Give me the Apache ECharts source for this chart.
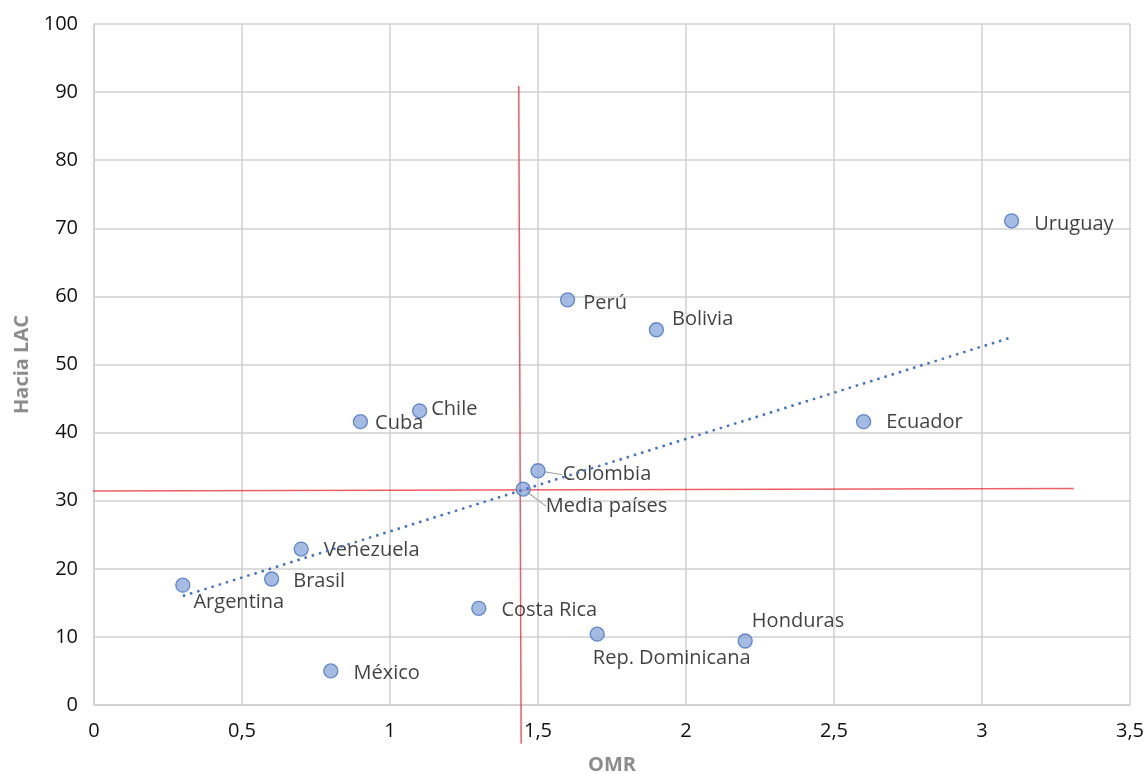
<!DOCTYPE html>
<html><head><meta charset="utf-8">
<script src="https://cdn.jsdelivr.net/npm/echarts@6/dist/echarts.min.js"></script>
<style>html,body{margin:0;padding:0;background:#fff;overflow:hidden}#c{width:1144px;height:774px}</style>
</head><body><div id="c"></div>
<script>
// ---- data ----
const countries = ['Argentina','Brasil','Venezuela','México','Cuba','Chile','Costa Rica','Colombia','Media países','Perú','Rep. Dominicana','Bolivia','Honduras','Ecuador','Uruguay'];
const omr      = [0.3, 0.6, 0.7, 0.8, 0.9, 1.1, 1.3, 1.5, 1.45, 1.6, 1.7, 1.9, 2.2, 2.6, 3.1];
const haciaLAC = [17.6, 18.5, 22.9, 5.0, 41.6, 43.2, 14.2, 34.4, 31.7, 59.5, 10.4, 55.1, 9.4, 41.6, 71.1];
const trendX = [0.3, 3.1];
const trendY = [16.0, 54.0];
const meanVX = [1.435, 1.443];
const meanVY = [90.9, -5.7];
const meanHX = [-0.17, 3.31];
const meanHY = [31.4, 31.8];
const leaderLabels = ['Colombia','Media países'];

// ---- label placement (px offsets from default right position) ----
const labelOffsets = {
  'Argentina':[-2,17],'Brasil':[9,2],'Venezuela':[10,1],'México':[10,2],'Cuba':[2,2],
  'Chile':[-1,-2],'Costa Rica':[10,2],'Colombia':[12,4],'Media países':[10,17],'Perú':[3,3],
  'Rep. Dominicana':[-17,24],'Bolivia':[3,-10],'Honduras':[-6,-20],'Ecuador':[10,1],'Uruguay':[10,3]
};

const FONT = 'Open Sans';
const chart = echarts.init(document.getElementById('c'), null, {renderer:'canvas'});
const pts = countries.map((n,i)=>({
  name:n, value:[omr[i], haciaLAC[i]],
  labelLine: {show: leaderLabels.includes(n)}
}));
const zip = (a,b)=>a.map((v,i)=>[v,b[i]]);

chart.setOption({
  animation:false,
  textStyle:{fontFamily:FONT},
  grid:{left:94, right:14, top:24, bottom:69, containLabel:false, outerBoundsMode:'none'},
  xAxis:{
    type:'value', min:0, max:3.5, interval:0.5,
    name:'OMR', nameLocation:'middle', nameGap:50,
    nameTextStyle:{color:'#8c8c8c', fontWeight:'bold', fontSize:20, fontFamily:FONT},
    axisLine:{show:true, lineStyle:{color:'#d0d0d0', width:1.5}},
    axisTick:{show:false},
    axisLabel:{color:'#111', fontSize:20, fontWeight:500, margin:16, fontFamily:FONT,
      formatter:v=>String(v).replace('.',',')},
    splitLine:{show:true, lineStyle:{color:'#d0d0d0', width:1.5}}
  },
  yAxis:{
    type:'value', min:0, max:100, interval:10,
    name:'Hacia LAC', nameLocation:'middle', nameGap:62, nameRotate:90,
    nameTextStyle:{color:'#8c8c8c', fontWeight:'bold', fontSize:20, fontFamily:FONT},
    axisLine:{show:true, lineStyle:{color:'#d0d0d0', width:1.5}},
    axisTick:{show:false},
    axisLabel:{color:'#111', fontSize:20, fontWeight:500, margin:16, fontFamily:FONT},
    splitLine:{show:true, lineStyle:{color:'#d0d0d0', width:1.5}}
  },
  series:[
    {type:'line', data:zip(meanVX,meanVY), clip:false, symbol:'none', silent:true,
      lineStyle:{color:'rgba(232,40,50,0.75)', width:1.5}, z:2},
    {type:'line', data:zip(meanHX,meanHY), clip:false, symbol:'none', silent:true,
      lineStyle:{color:'rgba(232,40,50,0.75)', width:1.5}, z:2},
    {type:'scatter', data:pts, symbolSize:14, z:4,
      itemStyle:{color:'#8eaadb', borderColor:'#4472c4', borderWidth:1.3},
      label:{show:true, position:'right', distance:5, formatter:'{b}',
        color:'#111', fontSize:20, fontWeight:500, fontFamily:FONT},
      labelLine:{show:false, lineStyle:{color:'#a6a6a6', width:1.2}},
      labelLayout:function(p){
        const o = labelOffsets[countries[p.dataIndex]] || [0,0];
        return {dx:o[0], dy:o[1]};
      }
    },
    {type:'line', data:zip(trendX,trendY), symbol:'none', silent:true, z:5,
      lineStyle:{color:'#4472c4', width:2.5, type:[2.5,5]}}
  ]
});
</script></body></html>
